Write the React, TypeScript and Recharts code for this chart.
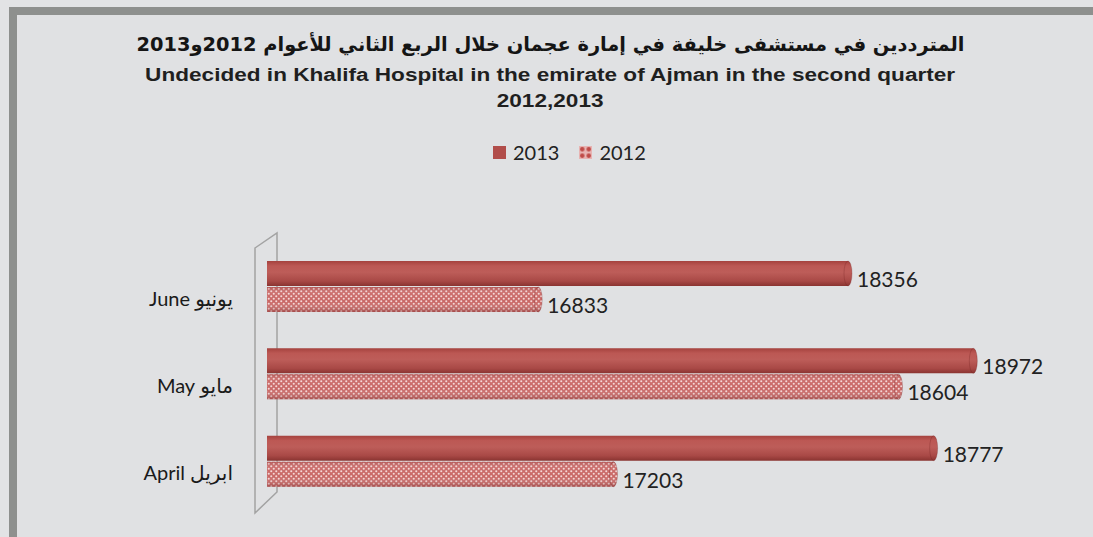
import React from 'react';
import { BarChart, Bar, XAxis, YAxis, LabelList } from 'recharts';

const months = ['يونيو June', 'مايو May', 'ابريل April'];
const values2013 = [18356, 18972, 18777];
const values2012 = [16833, 18604, 17203];
const seriesNames = ['2013', '2012'];
const titleAr = 'المترددين في مستشفى خليفة في إمارة عجمان خلال الربع الثاني للأعوام 2012و2013';
const titleEn1 = 'Undecided in Khalifa Hospital in the emirate of Ajman in the second quarter';
const titleEn2 = '2012,2013';
const xDomain: [number, number] = [15500, 19000];

const data = months.map((m, i) => ({ month: m, y2013: values2013[i], y2012: values2012[i] }));

const W = 1093;
const H = 537;
const M = { top: 243, right: 114, bottom: 32, left: 0 };
const YW = 267;
const CAP = 4;

const Cyl = (props: any) => {
  const { x, y, width, height, fillId, overlay } = props;
  if (width == null || height == null) return null;
  const cy = y + height / 2;
  const ry = height / 2;
  return (
    <g>
      <rect x={x - CAP} y={y} width={width + 2 * CAP} height={height} rx={CAP} ry={ry} fill={`url(#${fillId})`} />
      {overlay && (
        <rect x={x - CAP} y={y} width={width + 2 * CAP} height={height} rx={CAP} ry={ry} fill={`url(#${overlay})`} />
      )}
      <ellipse cx={x + width} cy={cy} rx={CAP} ry={ry} fill="none" stroke="rgba(110,30,30,0.35)" strokeWidth={0.8} />
    </g>
  );
};

const ValueLabel = (props: any) => {
  const { x, y, width, height, value } = props;
  return (
    <text x={x + width + 9} y={y + height / 2 + 5} dominantBaseline="central" fontFamily="Lato, 'Open Sans', sans-serif" fontSize={21} fill="#222">
      {value}
    </text>
  );
};

const MonthTick = (props: any) => {
  const { x, y, payload } = props;
  return (
    <text x={x - 34} y={y + 11} direction="rtl" textAnchor="start" dominantBaseline="central" fontFamily="Lato, 'DejaVu Sans', sans-serif" fontSize={20} fill="#1a1a1a">
      {payload.value}
    </text>
  );
};

const enStyle: React.CSSProperties = {
  position: 'absolute',
  left: 0,
  width: W + 8,
  textAlign: 'center',
  fontFamily: "'Liberation Sans', Arial, sans-serif",
  fontWeight: 700,
  fontSize: 18,
  color: '#1f1f1f',
  lineHeight: '24px',
  transform: 'scaleX(1.255)',
  transformOrigin: '552px 50%',
};

export default function App() {
  const L = YW;
  const T = M.top;
  const B = H - M.bottom;
  return (
    <div style={{ position: 'fixed', left: 0, top: 0, width: W, height: H, background: '#e2e3e5', overflow: 'hidden' }}>
      <svg width={0} height={0} style={{ position: 'absolute' }}>
        <defs>
          <linearGradient id="g2013" x1="0" y1="0" x2="0" y2="1">
            <stop offset="0%" stopColor="#a5423e" />
            <stop offset="20%" stopColor="#bc5854" />
            <stop offset="45%" stopColor="#bd5d59" />
            <stop offset="80%" stopColor="#a94946" />
            <stop offset="100%" stopColor="#8a3431" />
          </linearGradient>
          <pattern id="p2012" x="0" y="0" width="5" height="5" patternUnits="userSpaceOnUse">
            <rect width="5" height="5" fill="#c96866" />
            <circle cx="1.25" cy="1.25" r="1.05" fill="#f5d6d6" />
            <circle cx="3.75" cy="3.75" r="1.05" fill="#f5d6d6" />
          </pattern>
          <linearGradient id="o2012" x1="0" y1="0" x2="0" y2="1">
            <stop offset="0%" stopColor="rgba(120,30,30,0.3)" />
            <stop offset="25%" stopColor="rgba(255,255,255,0.05)" />
            <stop offset="60%" stopColor="rgba(255,255,255,0)" />
            <stop offset="100%" stopColor="rgba(110,30,30,0.4)" />
          </linearGradient>
          <pattern id="leg2012" x="0" y="0" width="6.5" height="6.5" patternUnits="userSpaceOnUse">
            <rect width="6.5" height="6.5" fill="#e8b4b3" />
            <circle cx="3.25" cy="3.25" r="2.3" fill="#c04b48" />
          </pattern>
        </defs>
      </svg>
      <div style={{ position: 'absolute', left: 9, top: 7, width: 1200, height: 700, border: '8px solid #8e908e', background: '#e0e1e3' }} />
      <div dir="rtl" style={{ position: 'absolute', left: 0, width: W + 8, top: 30, textAlign: 'center', fontFamily: "'DejaVu Sans', sans-serif", fontWeight: 700, fontSize: 19.4, color: '#151515', lineHeight: '30px' }}>
        {titleAr}
      </div>
      <div style={{ ...enStyle, top: 63 }}>{titleEn1}</div>
      <div style={{ ...enStyle, top: 89 }}>{titleEn2}</div>
      <div style={{ position: 'absolute', left: 493, top: 140, display: 'flex', alignItems: 'center', fontFamily: "Lato, 'Open Sans', sans-serif", fontSize: 20, color: '#222' }}>
        <span style={{ display: 'inline-block', width: 13, height: 13, background: '#b14d4a', marginRight: 7 }} />
        <span style={{ marginRight: 20 }}>{seriesNames[0]}</span>
        <svg width={13} height={13} style={{ marginRight: 7 }}>
          <rect width={13} height={13} fill="url(#leg2012)" />
        </svg>
        <span>{seriesNames[1]}</span>
      </div>
      <svg width={W} height={H} style={{ position: 'absolute', left: 0, top: 0 }}>
        <polygon points={`${L - 12},${T + 5} ${L + 10},${T - 10} ${L + 10},${B - 13} ${L - 12},${B + 8}`} fill="none" stroke="#a3a3a3" strokeWidth={1.5} />
      </svg>
      <div style={{ position: 'absolute', left: 0, top: 0 }}>
        <BarChart width={W} height={H} data={data} layout="vertical" margin={M} barSize={25} barGap={1}>
          <XAxis type="number" hide domain={xDomain} allowDataOverflow />
          <YAxis type="category" dataKey="month" width={YW} axisLine={false} tickLine={false} tickSize={0} tickMargin={0} tick={<MonthTick />} />
          <Bar dataKey="y2013" name={seriesNames[0]} isAnimationActive={false} shape={(p: any) => <Cyl {...p} fillId="g2013" />}>
            <LabelList dataKey="y2013" content={<ValueLabel />} />
          </Bar>
          <Bar dataKey="y2012" name={seriesNames[1]} isAnimationActive={false} shape={(p: any) => <Cyl {...p} fillId="p2012" overlay="o2012" />}>
            <LabelList dataKey="y2012" content={<ValueLabel />} />
          </Bar>
        </BarChart>
      </div>
    </div>
  );
}
